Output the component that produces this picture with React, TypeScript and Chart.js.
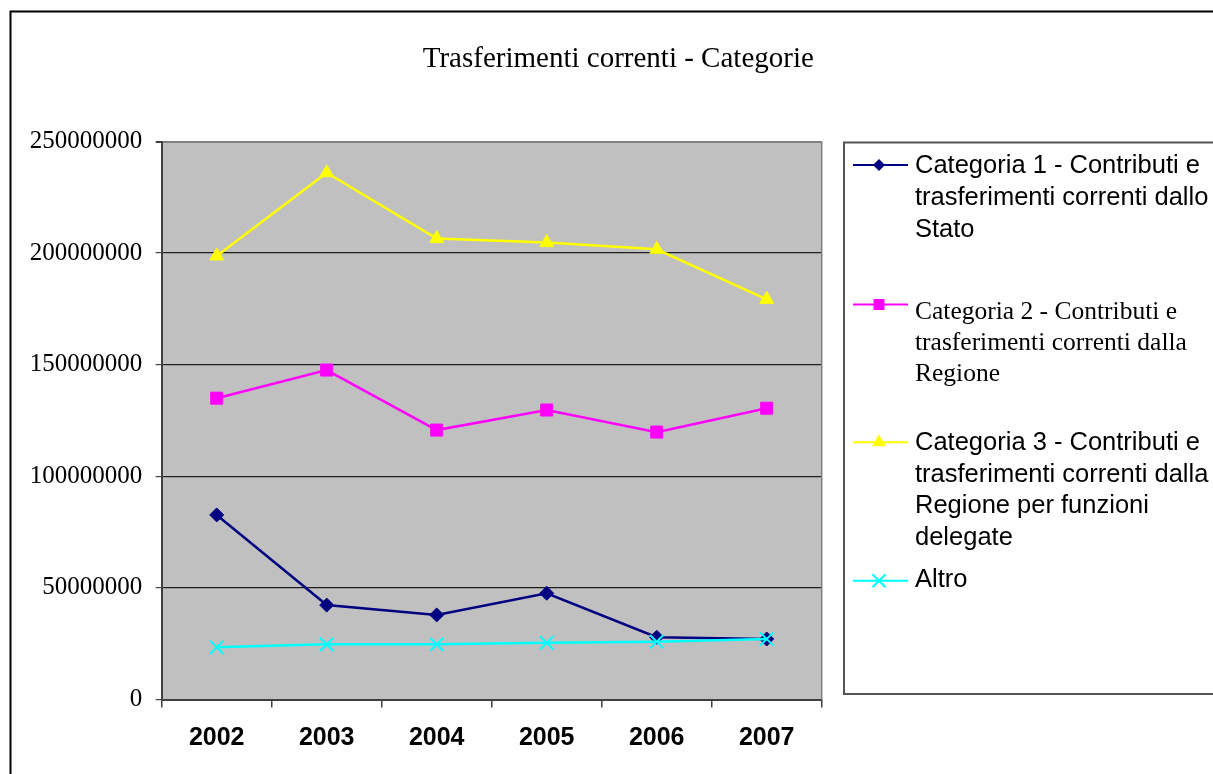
import React, { useEffect, useRef } from 'react';
import { Chart, registerables } from 'chart.js';

Chart.register(...registerables);

const years = ['2002', '2003', '2004', '2005', '2006', '2007'];
const cat1Values = [82.7e6, 42.3e6, 37.9e6, 47.6e6, 27.9e6, 27.1e6];
const cat2Values = [135.0e6, 147.6e6, 120.7e6, 129.7e6, 119.8e6, 130.5e6];
const cat3Values = [198.7e6, 236.0e6, 206.5e6, 204.7e6, 201.7e6, 179.3e6];
const altroValues = [23.4e6, 24.7e6, 24.7e6, 25.4e6, 25.9e6, 27.1e6];
const yMin = 0;
const yMax = 250000000;
const yStep = 50000000;

const titleText = 'Trasferimenti correnti - Categorie';
const seriesNames = [
  'Categoria 1 - Contributi e trasferimenti correnti dallo Stato',
  'Categoria 2 - Contributi e trasferimenti correnti dalla Regione',
  'Categoria 3 - Contributi e trasferimenti correnti dalla Regione per funzioni delegate',
  'Altro',
];
const legendLines1 = ['Categoria 1 - Contributi e', 'trasferimenti correnti dallo', 'Stato'];
const legendLines2 = ['Categoria 2 - Contributi e', 'trasferimenti correnti dalla', 'Regione'];
const legendLines3 = ['Categoria 3 - Contributi e', 'trasferimenti correnti dalla', 'Regione per funzioni', 'delegate'];
const legendLines4 = ['Altro'];

const NAVY = '#000080';
const MAGENTA = '#FF00FF';
const YELLOW = '#FFFF00';
const CYAN = '#00FFFF';

const SANS = '"Liberation Sans", Arial, sans-serif';
const SERIF = '"Liberation Serif", "Times New Roman", serif';

const W = 1213;
const H = 774;
const PLOT_LEFT = 161.7;
const PLOT_RIGHT = 821.7;
const PLOT_TOP = 141.5;
const PLOT_BOTTOM = 699.5;

function drawMarker(ctx: CanvasRenderingContext2D, kind: string, x: number, y: number, color: string) {
  ctx.save();
  ctx.fillStyle = color;
  ctx.strokeStyle = color;
  ctx.lineWidth = 2;
  ctx.beginPath();
  if (kind === 'diamond') {
    const r = 6;
    ctx.moveTo(x - r, y);
    ctx.lineTo(x, y - r);
    ctx.lineTo(x + r, y);
    ctx.lineTo(x, y + r);
    ctx.closePath();
    ctx.fill();
  } else if (kind === 'square') {
    const s = 5.5;
    ctx.rect(x - s, y - s, 2 * s, 2 * s);
    ctx.fill();
  } else if (kind === 'triangle') {
    const r = 8;
    ctx.moveTo(x, y - r);
    ctx.lineTo(x + r * 0.866, y + r / 2);
    ctx.lineTo(x - r * 0.866, y + r / 2);
    ctx.closePath();
    ctx.fill();
  } else {
    const s = 6.5;
    ctx.moveTo(x - s, y - s);
    ctx.lineTo(x + s, y + s);
    ctx.moveTo(x + s, y - s);
    ctx.lineTo(x - s, y + s);
    ctx.stroke();
  }
  ctx.restore();
}

const decorPlugin = {
  id: 'decor',
  beforeDraw(chart: any) {
    const { ctx, chartArea: a } = chart;
    ctx.save();
    ctx.fillStyle = '#FFFFFF';
    ctx.fillRect(0, 0, chart.width, chart.height);
    // outer frame
    ctx.strokeStyle = '#000000';
    ctx.lineWidth = 2;
    ctx.beginPath();
    ctx.moveTo(10.5, H + 20);
    ctx.lineTo(10.5, 11.5);
    ctx.lineTo(W + 20, 11.5);
    ctx.stroke();
    // plot area background
    ctx.fillStyle = '#C0C0C0';
    ctx.fillRect(a.left, a.top, a.right - a.left, a.bottom - a.top);
    ctx.restore();
  },
  afterDraw(chart: any) {
    const { ctx, chartArea: a } = chart;
    ctx.save();
    // right border of plot area
    ctx.strokeStyle = '#808080';
    ctx.lineWidth = 1.5;
    ctx.beginPath();
    ctx.moveTo(a.right, a.top);
    ctx.lineTo(a.right, a.bottom);
    ctx.stroke();

    // title
    ctx.fillStyle = '#000000';
    ctx.font = '29px ' + SERIF;
    ctx.textAlign = 'center';
    ctx.textBaseline = 'alphabetic';
    ctx.fillText(titleText, 618.3, 66.5);

    // legend box
    ctx.strokeStyle = '#555555';
    ctx.lineWidth = 2;
    ctx.strokeRect(844, 142.5, 420, 551.5);

    const entries = [
      { lines: legendLines1, color: NAVY, marker: 'diamond', font: '25.5px ' + SANS, sampleY: 165, base: 173.3, step: 31.7 },
      { lines: legendLines2, color: MAGENTA, marker: 'square', font: '25.5px ' + SERIF, sampleY: 304.5, base: 318.5, step: 31 },
      { lines: legendLines3, color: YELLOW, marker: 'triangle', font: '25.5px ' + SANS, sampleY: 442.3, base: 450, step: 31.7 },
      { lines: legendLines4, color: CYAN, marker: 'cross', font: '25.5px ' + SANS, sampleY: 580.7, base: 586.7, step: 31.7 },
    ];
    ctx.textAlign = 'left';
    for (const e of entries) {
      ctx.strokeStyle = e.color;
      ctx.lineWidth = 2;
      ctx.beginPath();
      ctx.moveTo(853, e.sampleY);
      ctx.lineTo(908, e.sampleY);
      ctx.stroke();
      drawMarker(ctx, e.marker, 879, e.sampleY, e.color);
      ctx.fillStyle = '#000000';
      ctx.font = e.font;
      e.lines.forEach((line, i) => {
        ctx.fillText(line, 915, e.base + i * e.step);
      });
    }
    ctx.restore();
  },
};

export default function App() {
  const canvasRef = useRef<HTMLCanvasElement | null>(null);

  useEffect(() => {
    if (!canvasRef.current) return;
    const mk = (label: string, data: number[], color: string, style: string, radius: number, order: number, bw: number) => ({
      label,
      data,
      borderColor: color,
      backgroundColor: color,
      borderWidth: 2.5,
      tension: 0,
      pointStyle: style,
      pointRadius: radius,
      pointBackgroundColor: color,
      pointBorderColor: color,
      pointBorderWidth: bw,
      order,
      fill: false,
    });
    const chart = new Chart(canvasRef.current, {
      type: 'line',
      data: {
        labels: years,
        datasets: [
          mk(seriesNames[0], cat1Values, NAVY, 'rectRot', 7, 3, 1),
          mk(seriesNames[1], cat2Values, MAGENTA, 'rect', 8.5, 2, 1),
          mk(seriesNames[2], cat3Values, YELLOW, 'triangle', 8, 1, 1),
          mk(seriesNames[3], altroValues, CYAN, 'crossRot', 9.4, 0, 2),
        ] as any,
      },
      options: {
        animation: false,
        responsive: false,
        events: [],
        layout: {
          padding: { left: 0, top: PLOT_TOP, right: W - PLOT_RIGHT, bottom: 0 },
        },
        plugins: {
          legend: { display: false },
          title: { display: false },
          tooltip: { enabled: false },
        },
        scales: {
          x: {
            type: 'category',
            offset: true,
            afterFit: (scale: any) => {
              scale.height = H - PLOT_BOTTOM;
            },
            grid: {
              display: true,
              drawOnChartArea: false,
              offset: true,
              tickLength: 8,
              color: '#404040',
              lineWidth: 1.5,
            },
            border: { display: true, color: '#404040', width: 2 },
            ticks: {
              color: '#000000',
              font: { family: SANS, size: 25, weight: 'bold' },
              padding: 16,
              maxRotation: 0,
              autoSkip: false,
            },
          },
          y: {
            type: 'linear',
            min: yMin,
            max: yMax,
            afterFit: (scale: any) => {
              scale.width = PLOT_LEFT;
            },
            grid: {
              display: true,
              color: (c: any) => (c.tick && c.tick.value === yMax ? '#808080' : '#1e1e1e'),
              tickColor: '#404040',
              lineWidth: (c: any) => (c.tick && c.tick.value === yMax ? 2 : 1.2),
              tickLength: 6,
            },
            border: { display: true, color: '#404040', width: 2 },
            ticks: {
              stepSize: yStep,
              color: '#000000',
              font: { family: SERIF, size: 25 },
              padding: 13.5,
              callback: (v: any) => String(v),
            },
          },
        },
      } as any,
      plugins: [decorPlugin],
    });
    return () => chart.destroy();
  }, []);

  return (
    <div style={{ position: 'fixed', left: 0, top: 0, width: W, height: H, background: '#fff' }}>
      <canvas ref={canvasRef} width={W} height={H} style={{ width: W, height: H, display: 'block' }} />
    </div>
  );
}
